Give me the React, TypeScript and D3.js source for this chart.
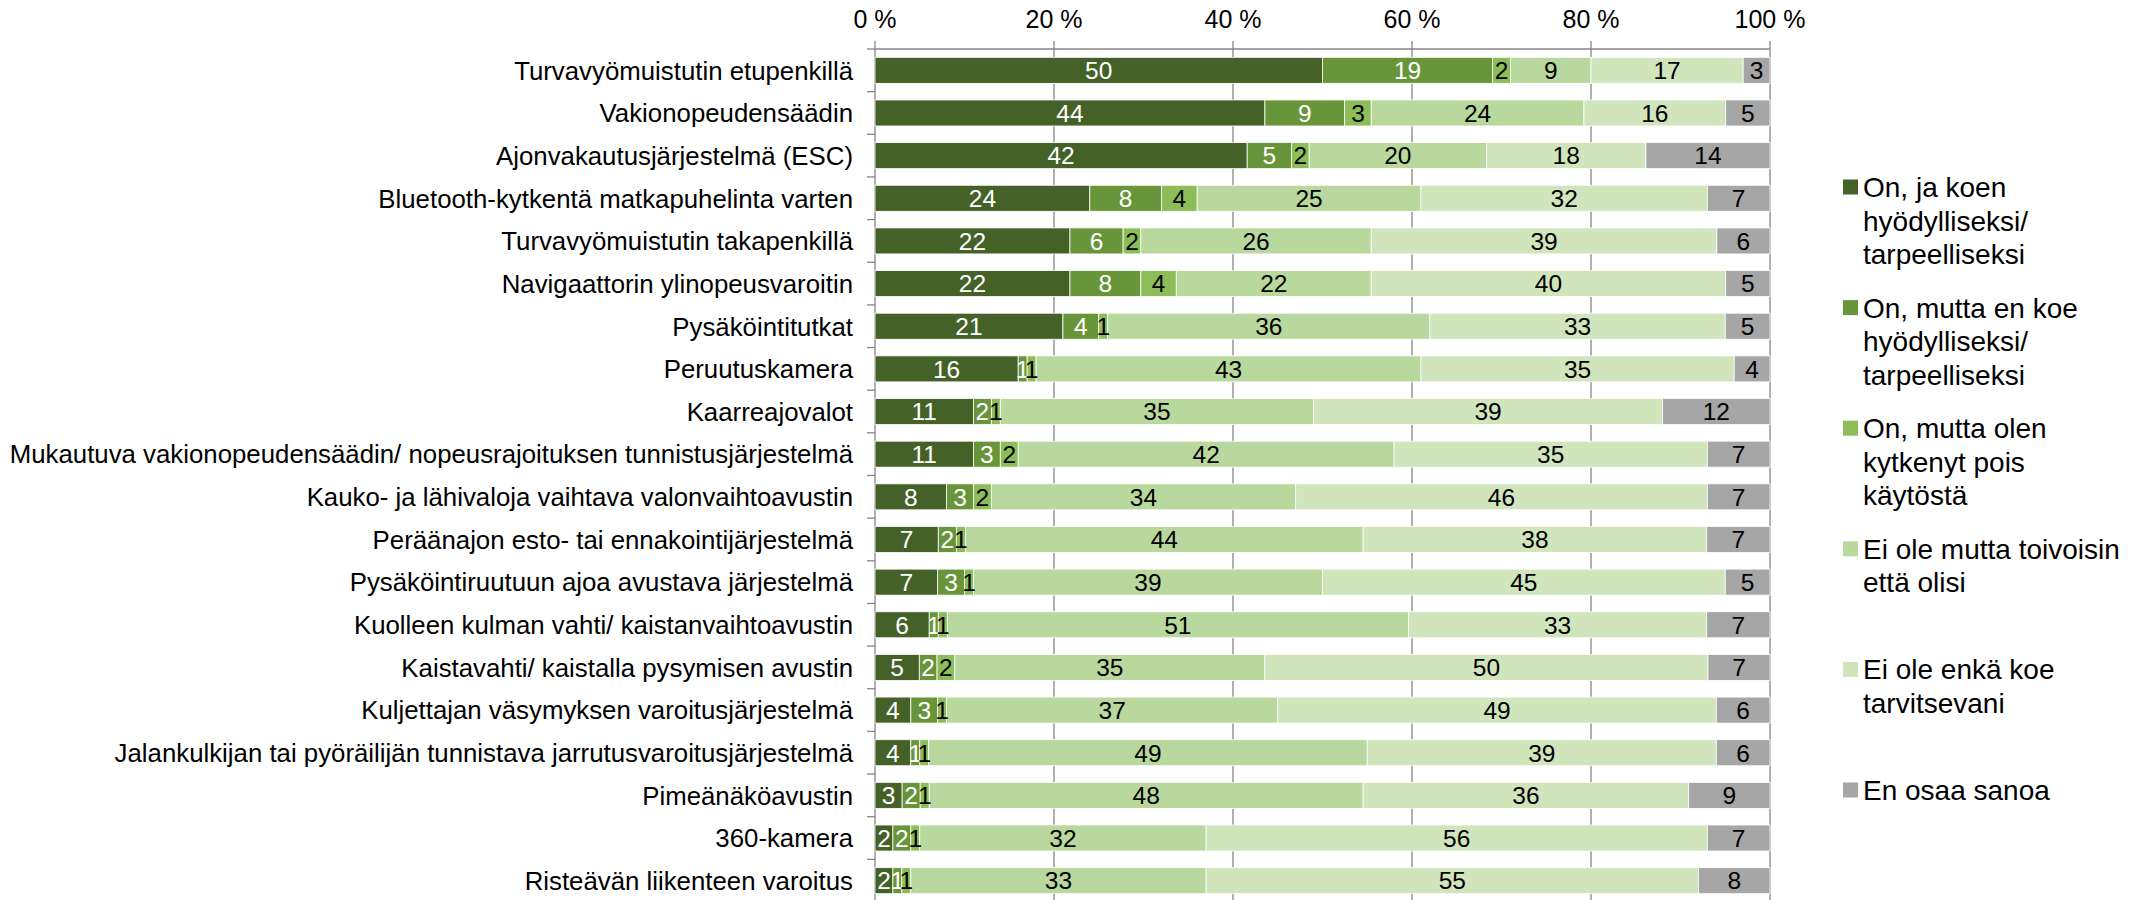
import React from 'react';
import * as d3 from 'd3';

const categories = [
  'Turvavyömuistutin etupenkillä',
  'Vakionopeudensäädin',
  'Ajonvakautusjärjestelmä (ESC)',
  'Bluetooth-kytkentä matkapuhelinta varten',
  'Turvavyömuistutin takapenkillä',
  'Navigaattorin ylinopeusvaroitin',
  'Pysäköintitutkat',
  'Peruutuskamera',
  'Kaarreajovalot',
  'Mukautuva vakionopeudensäädin/ nopeusrajoituksen tunnistusjärjestelmä',
  'Kauko- ja lähivaloja vaihtava valonvaihtoavustin',
  'Peräänajon esto- tai ennakointijärjestelmä',
  'Pysäköintiruutuun ajoa avustava järjestelmä',
  'Kuolleen kulman vahti/ kaistanvaihtoavustin',
  'Kaistavahti/ kaistalla pysymisen avustin',
  'Kuljettajan väsymyksen varoitusjärjestelmä',
  'Jalankulkijan tai pyöräilijän tunnistava jarrutusvaroitusjärjestelmä',
  'Pimeänäköavustin',
  '360-kamera',
  'Risteävän liikenteen varoitus',
];

const onUseful = [50, 44, 42, 24, 22, 22, 21, 16, 11, 11, 8, 7, 7, 6, 5, 4, 4, 3, 2, 2];
const onNotUseful = [19, 9, 5, 8, 6, 8, 4, 1, 2, 3, 3, 2, 3, 1, 2, 3, 1, 2, 2, 1];
const onSwitchedOff = [2, 3, 2, 4, 2, 4, 1, 1, 1, 2, 2, 1, 1, 1, 2, 1, 1, 1, 1, 1];
const notButWish = [9, 24, 20, 25, 26, 22, 36, 43, 35, 42, 34, 44, 39, 51, 35, 37, 49, 48, 32, 33];
const notNoNeed = [17, 16, 18, 32, 39, 40, 33, 35, 39, 35, 46, 38, 45, 33, 50, 49, 39, 36, 56, 55];
const dontKnow = [3, 5, 14, 7, 6, 5, 5, 4, 12, 7, 7, 7, 5, 7, 7, 6, 6, 9, 7, 8];

const seriesKeys = ['s0', 's1', 's2', 's3', 's4', 's5'];
const seriesValues = [onUseful, onNotUseful, onSwitchedOff, notButWish, notNoNeed, dontKnow];
const legendLabels = [
  ['On, ja koen', 'hyödylliseksi/', 'tarpeelliseksi'],
  ['On, mutta en koe', 'hyödylliseksi/', 'tarpeelliseksi'],
  ['On, mutta olen', 'kytkenyt pois', 'käytöstä'],
  ['Ei ole mutta toivoisin', 'että olisi'],
  ['Ei ole enkä koe', 'tarvitsevani'],
  ['En osaa sanoa'],
];
const colors = ['#446228', '#68953A', '#8CBD59', '#B9D89D', '#D1E5BC', '#A6A6A6'];
const labelColors = ['#ffffff', '#ffffff', '#000000', '#000000', '#000000', '#000000'];
const xTicks = [0, 20, 40, 60, 80, 100];

const FONT = '"Liberation Sans", Arial, sans-serif';

export default function App() {
  const W = 2145;
  const H = 900;
  const left = 875;
  const right = 1770;
  const top = 49;
  const bottom = 902;

  const rows = categories.map((c, i) => {
    const r: any = { cat: c };
    seriesKeys.forEach((k, j) => (r[k] = seriesValues[j][i]));
    return r;
  });
  const stacked = d3.stack<any>().keys(seriesKeys).offset(d3.stackOffsetExpand)(rows);

  const x = d3.scaleLinear().domain([0, 1]).range([left, right]);
  const xPct = d3.scaleLinear().domain([0, 100]).range([left, right]);
  const y = d3.scaleBand().domain(categories).range([top, bottom]).paddingInner(0.39).paddingOuter(0.195);
  const step = y.step();
  const bw = y.bandwidth();

  const axisColor = '#868686';

  const legendX = 1843;
  const legendY0 = 187;
  const legendStep = 120.6;
  const lineH = 33.6;

  return (
    <svg width={W} height={H} style={{ position: 'absolute', left: 0, top: 0, background: '#fff' }} fontFamily={FONT}>
      {xTicks.map((t) => (
        <line key={'g' + t} x1={xPct(t)} x2={xPct(t)} y1={top - 8} y2={H} stroke={axisColor} strokeWidth={1.3} />
      ))}
      <line x1={left} x2={right} y1={top} y2={top} stroke={axisColor} strokeWidth={1.5} />
      {categories.map((c, i) => (
        <line key={'lt' + i} x1={left - 8} x2={left} y1={top + i * step} y2={top + i * step} stroke={axisColor} strokeWidth={1.3} />
      ))}
      {xTicks.map((t) => (
        <text key={'tl' + t} x={xPct(t)} y={28} textAnchor="middle" fontSize={25} fill="#000">
          {t + ' %'}
        </text>
      ))}
      {stacked.map((s, si) => (
        <g key={'s' + si}>
          {s.map((d, i) => (
            <rect
              key={i}
              x={x(d[0])}
              y={y(categories[i])!}
              width={x(d[1]) - x(d[0])}
              height={bw}
              fill={colors[si]}
              stroke="#ffffff"
              strokeWidth={0.8}
            />
          ))}
        </g>
      ))}
      {stacked.map((s, si) => (
        <g key={'dl' + si}>
          {s.map((d, i) => (
            <text
              key={i}
              x={(x(d[0]) + x(d[1])) / 2}
              y={y(categories[i])! + bw / 2}
              dy="0.36em"
              textAnchor="middle"
              fontSize={24.5}
              fill={labelColors[si]}
            >
              {seriesValues[si][i]}
            </text>
          ))}
        </g>
      ))}
      {categories.map((c) => (
        <text key={'cl' + c} x={853} y={y(c)! + bw / 2} dy="0.36em" textAnchor="end" fontSize={25.8} fill="#000">
          {c}
        </text>
      ))}
      {legendLabels.map((lines, i) => {
        const cy = legendY0 + i * legendStep;
        return (
          <g key={'lg' + i}>
            <rect x={legendX} y={cy - 7.5} width={15} height={15} fill={colors[i]} />
            {lines.map((ln, j) => (
              <text key={j} x={legendX + 20} y={cy + j * lineH} dy="0.36em" fontSize={28} fill="#000">
                {ln}
              </text>
            ))}
          </g>
        );
      })}
    </svg>
  );
}
